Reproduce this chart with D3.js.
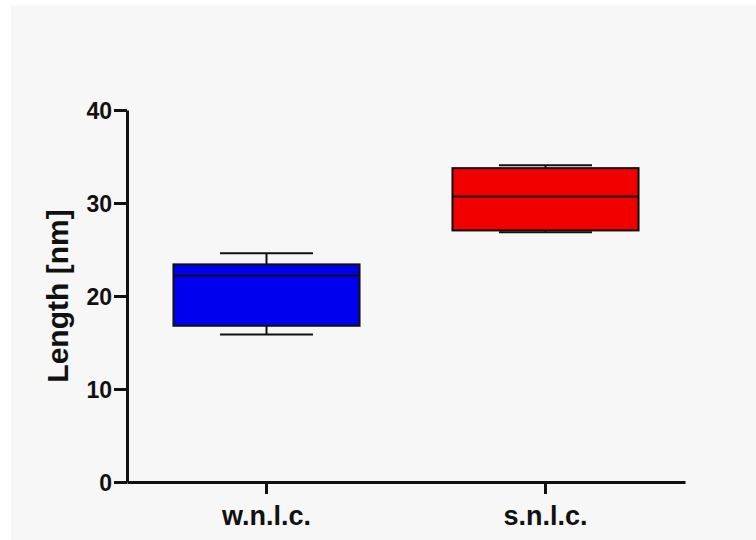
<!DOCTYPE html>
<html>
<head>
<meta charset="utf-8">
<script src="https://cdn.jsdelivr.net/npm/d3@7"></script>
<style>
  body { margin: 0; background: #ffffff; }
  text { font-family: "Liberation Sans", Arial, sans-serif; font-weight: bold; fill: #111; }
</style>
</head>
<body>
<svg id="boxchart" width="756" height="540"></svg>
<script>
// data
const categories = ["w.n.l.c.", "s.n.l.c."];
const whiskerLow = [15.85, 26.85];
const boxLow = [16.8, 27.05];
const medians = [22.2, 30.7];
const boxHigh = [23.4, 33.75];
const whiskerHigh = [24.6, 34.05];
const boxColors = ["#0000ee", "#f20000"];
const yTicks = [0, 10, 20, 30, 40];

document.addEventListener('DOMContentLoaded', _ => {
  const svg = d3.select("svg#boxchart");
  const width = +svg.attr("width");
  const height = +svg.attr("height");
  const margins = { "top": 110, "right": 71, "bottom": 58, "left": 127 };
  const chartWidth = width - margins.left - margins.right;
  const chartHeight = height - margins.top - margins.bottom;

  // light grey panel
  svg.append("rect").attr("x", 11).attr("y", 5)
    .attr("width", width - 11).attr("height", height - 5)
    .attr("fill", "#f7f7f7");

  const chart = svg.append("g").attr("transform", "translate(" + margins.left + "," + margins.top + ")");

  const xScale = d3.scaleBand().domain(categories).range([0, chartWidth]).padding(0);
  const yScale = d3.scaleLinear().domain([0, 40]).range([chartHeight, 0]);

  const rows = categories.map((c, i) => ({
    cat: c, lo: whiskerLow[i], q1: boxLow[i], med: medians[i], q3: boxHigh[i], hi: whiskerHigh[i], color: boxColors[i]
  }));

  const boxW = xScale.bandwidth() * 0.667;
  const capW = boxW / 2;

  const groups = chart.selectAll("g.box").data(rows).enter()
    .append("g").attr("class", "box")
    .attr("transform", d => `translate(${xScale(d.cat) + xScale.bandwidth() / 2},0)`);

  // whisker stems
  groups.append("line")
    .attr("x1", 0).attr("x2", 0)
    .attr("y1", d => yScale(d.hi)).attr("y2", d => yScale(d.q3))
    .attr("stroke", "#111").attr("stroke-width", 2);
  groups.append("line")
    .attr("x1", 0).attr("x2", 0)
    .attr("y1", d => yScale(d.q1)).attr("y2", d => yScale(d.lo))
    .attr("stroke", "#111").attr("stroke-width", 2);
  // caps
  groups.append("line")
    .attr("x1", -capW / 2).attr("x2", capW / 2)
    .attr("y1", d => yScale(d.hi)).attr("y2", d => yScale(d.hi))
    .attr("stroke", "#111").attr("stroke-width", 2);
  groups.append("line")
    .attr("x1", -capW / 2).attr("x2", capW / 2)
    .attr("y1", d => yScale(d.lo)).attr("y2", d => yScale(d.lo))
    .attr("stroke", "#111").attr("stroke-width", 2);
  // boxes
  groups.append("rect")
    .attr("x", -boxW / 2).attr("width", boxW)
    .attr("y", d => yScale(d.q3))
    .attr("height", d => yScale(d.q1) - yScale(d.q3))
    .attr("fill", d => d.color)
    .attr("stroke", "#111").attr("stroke-width", 2);
  // medians
  groups.append("line")
    .attr("x1", -boxW / 2).attr("x2", boxW / 2)
    .attr("y1", d => yScale(d.med)).attr("y2", d => yScale(d.med))
    .attr("stroke", "#111").attr("stroke-width", 2);

  // axes
  const leftAxis = d3.axisLeft(yScale).tickValues(yTicks).tickSize(13).tickPadding(2).tickSizeOuter(0);
  const yAxisG = chart.append("g").attr("class", "y axis").call(leftAxis);
  const bottomAxis = d3.axisBottom(xScale).tickSize(12).tickPadding(12).tickSizeOuter(0);
  const xAxisG = chart.append("g").attr("class", "x axis")
    .attr("transform", "translate(0," + chartHeight + ")").call(bottomAxis);

  [yAxisG, xAxisG].forEach(g => {
    g.select(".domain").attr("stroke", "#111").attr("stroke-width", 3);
    g.selectAll(".tick line").attr("stroke", "#111").attr("stroke-width", 3);
    g.selectAll("text").attr("fill", "#111").style("font-family", "'Liberation Sans', Arial, sans-serif").style("font-weight", "bold");
  });
  yAxisG.selectAll("text").style("font-size", "23px").attr("dy", "0.36em");
  xAxisG.selectAll("text").style("font-size", "27px");

  // y-axis title
  svg.append("text")
    .text("Length [nm]")
    .attr("transform", `rotate(-90,68,296)`)
    .attr("text-anchor", "middle")
    .attr("x", 68)
    .attr("y", 296)
    .style("font-size", "30px");
});
</script>
</body>
</html>
